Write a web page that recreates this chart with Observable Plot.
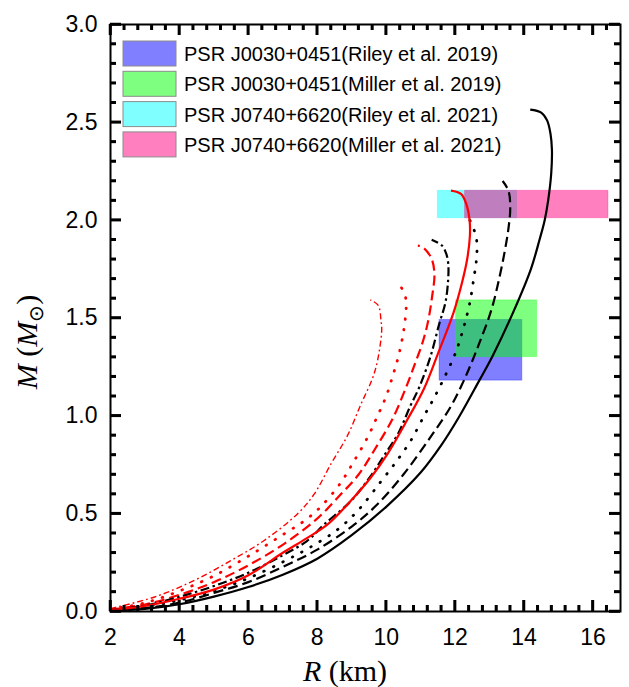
<!DOCTYPE html>
<html><head><meta charset="utf-8">
<script src="https://cdn.jsdelivr.net/npm/d3@7"></script>
<script src="https://cdn.jsdelivr.net/npm/@observablehq/plot@0.6"></script>
<style>body{margin:0;background:#fff;} svg{display:block;}</style>
</head><body><div id="chart"></div>
<script>
// ---- data: [R (km), M (Msun)] ----
const blackSolid = [[2.0,0.004],[3.0,0.013],[4.0,0.037],[5.0,0.076],[6.0,0.125],[7.0,0.188],[8.0,0.27],[9.0,0.39],[10.0,0.535],[11.0,0.71],[11.6,0.85],[12.1,0.99],[12.7,1.18],[13.1,1.31],[13.7,1.535],[14.2,1.75],[14.45,1.90],[14.6,2.0],[14.7,2.10],[14.79,2.24],[14.81,2.36],[14.77,2.44],[14.67,2.51],[14.5,2.55],[14.18,2.565]];
const blackDashed = [[2.0,0.005],[3.0,0.018],[4.0,0.045],[5.0,0.095],[6.0,0.15],[7.0,0.228],[8.0,0.316],[9.0,0.434],[9.7,0.54],[10.5,0.70],[11.3,0.895],[11.85,1.04],[12.2,1.16],[12.45,1.26],[12.7,1.37],[13.05,1.54],[13.29,1.71],[13.45,1.85],[13.55,1.96],[13.6,2.06],[13.55,2.15],[13.38,2.20]];
const blackDotted = [[2.0,0.006],[3.0,0.025],[4.0,0.058],[5.0,0.105],[6.0,0.17],[7.0,0.253],[7.81,0.33],[8.6,0.42],[9.2,0.52],[9.85,0.665],[10.33,0.775],[10.72,0.875],[11.1,1.0],[11.4,1.095],[11.74,1.215],[12.03,1.33],[12.25,1.453],[12.42,1.572],[12.54,1.70],[12.62,1.80],[12.63,1.89],[12.55,1.95],[12.37,2.02]];
const blackDashDot = [[2.0,0.007],[3.0,0.03],[4.0,0.075],[5.0,0.13],[6.0,0.198],[7.0,0.288],[7.7,0.36],[8.2,0.445],[8.95,0.56],[9.5,0.68],[9.95,0.80],[10.35,0.91],[10.7,1.05],[10.96,1.146],[11.28,1.30],[11.54,1.47],[11.72,1.58],[11.8,1.70],[11.8,1.78],[11.74,1.83],[11.62,1.87],[11.32,1.90]];
const redSolid = [[2.0,0.008],[3.0,0.028],[4.0,0.065],[5.0,0.112],[6.0,0.185],[7.0,0.30],[7.7,0.375],[8.3,0.445],[8.98,0.567],[9.56,0.686],[10.04,0.806],[10.6,0.976],[11.1,1.14],[11.5,1.317],[11.95,1.525],[12.2,1.68],[12.35,1.80],[12.43,1.92],[12.42,2.0],[12.33,2.08],[12.17,2.134],[11.88,2.151]];
const redDashed = [[2.0,0.01],[3.0,0.036],[4.0,0.085],[5.0,0.15],[6.0,0.236],[7.04,0.346],[8.0,0.475],[8.69,0.60],[9.2,0.70],[9.65,0.823],[10.2,0.99],[10.62,1.165],[10.87,1.283],[11.03,1.36],[11.2,1.47],[11.33,1.606],[11.4,1.73],[11.3,1.81],[11.06,1.862],[10.92,1.87]];
const redDotted = [[2.0,0.012],[3.0,0.044],[4.0,0.105],[5.0,0.182],[6.07,0.29],[7.04,0.397],[7.6,0.46],[8.1,0.535],[8.69,0.66],[9.07,0.77],[9.46,0.89],[9.75,1.0],[10.0,1.10],[10.2,1.21],[10.35,1.30],[10.5,1.427],[10.58,1.555],[10.55,1.615],[10.38,1.674]];
const redDashDot = [[2.0,0.015],[3.26,0.073],[4.42,0.158],[5.49,0.26],[6.46,0.363],[7.43,0.50],[7.91,0.60],[8.4,0.755],[8.88,0.90],[9.27,1.06],[9.6,1.19],[9.75,1.283],[9.87,1.436],[9.85,1.487],[9.77,1.564],[9.54,1.593]];

// observational constraints
const boxLabels = ["PSR J0030+0451(Riley et al. 2019)", "PSR J0030+0451(Miller et al. 2019)", "PSR J0740+6620(Riley et al. 2021)", "PSR J0740+6620(Miller et al. 2021)"];
const boxColors = ["#0000ff", "#00ff00", "#00ffff", "#ff0080"];
const boxRmin = [11.55, 12.03, 11.5, 12.29];
const boxRmax = [13.95, 14.38, 13.8, 16.45];
const boxMmin = [1.18, 1.30, 2.01, 2.01];
const boxMmax = [1.49, 1.59, 2.15, 2.15];

// axes
const xTicks = [2, 4, 6, 8, 10, 12, 14, 16];
const yTicks = [0, 0.5, 1.0, 1.5, 2.0, 2.5, 3.0];
const xMinorTicks = [2.4, 2.8, 3.2, 3.6, 4.4, 4.8, 5.2, 5.6, 6.4, 6.8, 7.2, 7.6, 8.4, 8.8, 9.2, 9.6, 10.4, 10.8, 11.2, 11.6, 12.4, 12.8, 13.2, 13.6, 14.4, 14.8, 15.2, 15.6, 16.4];
const yMinorTicks = [0.1, 0.2, 0.3, 0.4, 0.6, 0.7, 0.8, 0.9, 1.1, 1.2, 1.3, 1.4, 1.6, 1.7, 1.8, 1.9, 2.1, 2.2, 2.3, 2.4, 2.6, 2.7, 2.8, 2.9];
const xDomain = [2, 16.8];
const yDomain = [0, 3];

const boxes = boxLabels.map((label, i) => ({label, color: boxColors[i], x1: boxRmin[i], x2: boxRmax[i], y1: boxMmin[i], y2: boxMmax[i]}));

const styles = [
  {data: redDashDot, stroke: "#ff0000", width: 1.4, dash: "6,3,1.8,3", cap: "butt"},
  {data: redDotted, stroke: "#ff0000", width: 2.8, dash: "0.6,10", cap: "round"},
  {data: redDashed, stroke: "#ff0000", width: 2.2, dash: "10,5", cap: "butt"},
  {data: blackDashDot, stroke: "#000000", width: 2.2, dash: "9,3.5,2.5,3.5", cap: "butt"},
  {data: blackDotted, stroke: "#000000", width: 2.8, dash: "0.6,10", cap: "round"},
  {data: blackDashed, stroke: "#000000", width: 2.2, dash: "10,5", cap: "butt"},
  {data: blackSolid, stroke: "#000000", width: 2.2, dash: null, cap: "butt"},
  {data: redSolid, stroke: "#ff0000", width: 2.2, dash: null, cap: "butt"}
];

const W = 629, H = 687, mL = 110, mR = 9, mT = 24, mB = 76;
const pxX = (xDomain[1] - xDomain[0]) / (W - mL - mR);
const pxY = (yDomain[1] - yDomain[0]) / (H - mT - mB);
const tickRules = (len, xs, ys) => [
  Plot.ruleX(xs, {x: d => d, y1: yDomain[0], y2: yDomain[0] + len * pxY, stroke: "black", strokeWidth: 2.5}),
  Plot.ruleX(xs, {x: d => d, y1: yDomain[1], y2: yDomain[1] - len * pxY, stroke: "black", strokeWidth: 2.5}),
  Plot.ruleY(ys, {y: d => d, x1: xDomain[0], x2: xDomain[0] + len * pxX, stroke: "black", strokeWidth: 2.5}),
  Plot.ruleY(ys, {y: d => d, x1: xDomain[1], x2: xDomain[1] - len * pxX, stroke: "black", strokeWidth: 2.5})
];

const svg = Plot.plot({
  width: W, height: H,
  marginLeft: mL, marginRight: mR, marginTop: mT, marginBottom: mB,
  x: {domain: xDomain},
  y: {domain: yDomain},
  marks: [
    Plot.rect(boxes, {x1: "x1", x2: "x2", y1: "y1", y2: "y2", fill: d => d.color, fillOpacity: 0.5, stroke: d => d.color, strokeOpacity: 0.3, strokeWidth: 1}),
    ...styles.map(s => Plot.line(s.data, {x: d => d[0], y: d => d[1], stroke: s.stroke, strokeWidth: s.width, strokeDasharray: s.dash, strokeLinecap: s.cap, curve: "catmull-rom"})),
    Plot.axisX({ticks: xTicks, anchor: "bottom", tickSize: 0, tickPadding: 17, tickFormat: d => String(d), label: null, fontSize: 23, fontFamily: "'Liberation Sans', Arial, sans-serif"}),
    Plot.axisY({ticks: yTicks, anchor: "left", tickSize: 0, tickPadding: 13, tickFormat: d3.format(".1f"), label: null, fontSize: 23, fontFamily: "'Liberation Sans', Arial, sans-serif"}),
    Plot.frame({stroke: "#000", strokeWidth: 2}),
    ...tickRules(11, xTicks, yTicks),
    ...tickRules(6, xMinorTicks, yMinorTicks)
  ]
});
document.getElementById("chart").appendChild(svg);

const s = d3.select(svg);
// legend
const lg = s.append("g").attr("text-anchor", "start");
boxLabels.forEach((label, i) => {
  const y0 = 41 + i * 30.3;
  lg.append("rect").attr("x", 123).attr("y", y0).attr("width", 53).attr("height", 25)
    .attr("fill", boxColors[i]).attr("fill-opacity", 0.5).attr("stroke", "#8c8c8c").attr("stroke-width", 1);
  lg.append("text").attr("x", 184).attr("y", y0 + 13).attr("dy", "0.35em").attr("text-anchor", "start")
    .attr("font-family", "'Liberation Sans', Arial, sans-serif").attr("font-size", 20).attr("fill", "#000")
    .text(label);
});
// axis titles
const serif = "'Liberation Serif', 'Times New Roman', serif";
const xt = s.append("text").attr("x", 345).attr("y", 681).attr("text-anchor", "middle")
  .attr("font-family", serif).attr("font-size", 30).attr("fill", "#000");
xt.append("tspan").attr("font-style", "italic").text("R");
xt.append("tspan").text(" (km)");
const yt = s.append("text").attr("transform", "translate(37,342) rotate(-90)").attr("text-anchor", "middle")
  .attr("font-family", serif).attr("font-size", 30).attr("fill", "#000");
yt.append("tspan").attr("font-style", "italic").text("M");
yt.append("tspan").text(" (");
yt.append("tspan").attr("font-style", "italic").text("M");
yt.append("tspan").attr("font-size", 20).attr("dy", 6).text("\u2299");
yt.append("tspan").attr("dy", -6).text(")");

// extra inward ticks drawn last, placed with Plot's own scales
const sx = svg.scale("x"), sy = svg.scale("y");
const tg = s.append("g");
const line = (x1, y1, x2, y2) => tg.append("line").attr("x1", x1).attr("y1", y1).attr("x2", x2).attr("y2", y2)
  .attr("stroke", "black").attr("stroke-width", 2.5);
[[xTicks, 11], [xMinorTicks, 6]].forEach(([vals, len]) => vals.forEach(v => {
  const x = sx.apply(v);
  line(x, sy.apply(yDomain[0]), x, sy.apply(yDomain[0]) - len);
  line(x, sy.apply(yDomain[1]), x, sy.apply(yDomain[1]) + len);
}));
[[yTicks, 11], [yMinorTicks, 6]].forEach(([vals, len]) => vals.forEach(v => {
  const y = sy.apply(v);
  line(sx.apply(xDomain[0]), y, sx.apply(xDomain[0]) + len, y);
  line(sx.apply(xDomain[1]), y, sx.apply(xDomain[1]) - len, y);
}));
</script></body></html>
